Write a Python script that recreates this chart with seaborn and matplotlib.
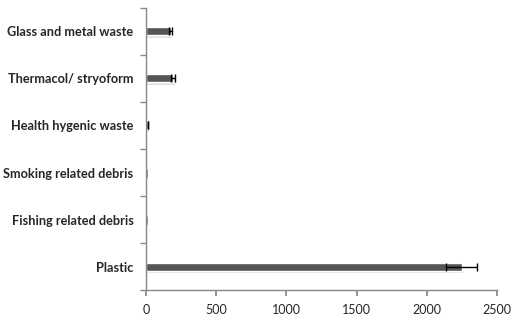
import matplotlib
matplotlib.use("Agg")
import matplotlib.pyplot as plt
import matplotlib.patheffects as pe
import seaborn as sns
import pandas as pd
import numpy as np

categories = ["Glass and metal waste", "Thermacol/ stryoform", "Health hygenic waste",
              "Smoking related debris", "Fishing related debris", "Plastic"]
values = [176, 196, 14, 3, 3, 2250]
errors = [12, 14, 2, 1, 1, 110]
x_ticks = [0, 500, 1000, 1500, 2000, 2500]

sns.set_theme(style="white")
plt.rcParams['font.family'] = ['Lato', 'DejaVu Sans']

df = pd.DataFrame({"category": categories, "value": values})

fig = plt.figure(figsize=(5.21, 3.17), dpi=100)
ax = fig.add_axes([0.280, 0.085, 0.674, 0.890])

sns.barplot(data=df, y="category", x="value", order=categories, color="#555555",
            width=0.17, errorbar=None, ax=ax, orient="h", saturation=1)
for p in ax.patches:
    p.set_path_effects([pe.SimplePatchShadow(offset=(1, -1.5), shadow_rgbFace="#bbbbbb", alpha=0.4), pe.Normal()])

ax.errorbar(values, np.arange(len(categories)), xerr=errors, fmt="none",
            ecolor="black", elinewidth=1, capsize=3, capthick=1)

ax.set_xlim(0, 2500)
ax.set_ylim(len(categories) - 0.5, -0.5)
ax.set_xticks(x_ticks)
ax.set_xticklabels([str(t) for t in x_ticks], fontsize=9)
ax.set_yticks(np.arange(len(categories)))
ax.set_yticklabels(categories, fontsize=9.2, fontweight="bold")
ax.set_yticks(np.arange(-0.5, len(categories)), minor=True)
ax.tick_params(axis="y", which="major", length=0, pad=9)
ax.tick_params(axis="y", which="minor", length=4, color="#888888", direction="out", left=True)
ax.tick_params(axis="x", which="major", length=4, color="#888888", direction="out", bottom=True, pad=6)
ax.set_xlabel("")
ax.set_ylabel("")
for s in ["top", "right"]:
    ax.spines[s].set_visible(False)
for s in ["left", "bottom"]:
    ax.spines[s].set_color("#888888")
    ax.spines[s].set_linewidth(1)

fig.savefig("out.png", dpi=100, facecolor="white")
